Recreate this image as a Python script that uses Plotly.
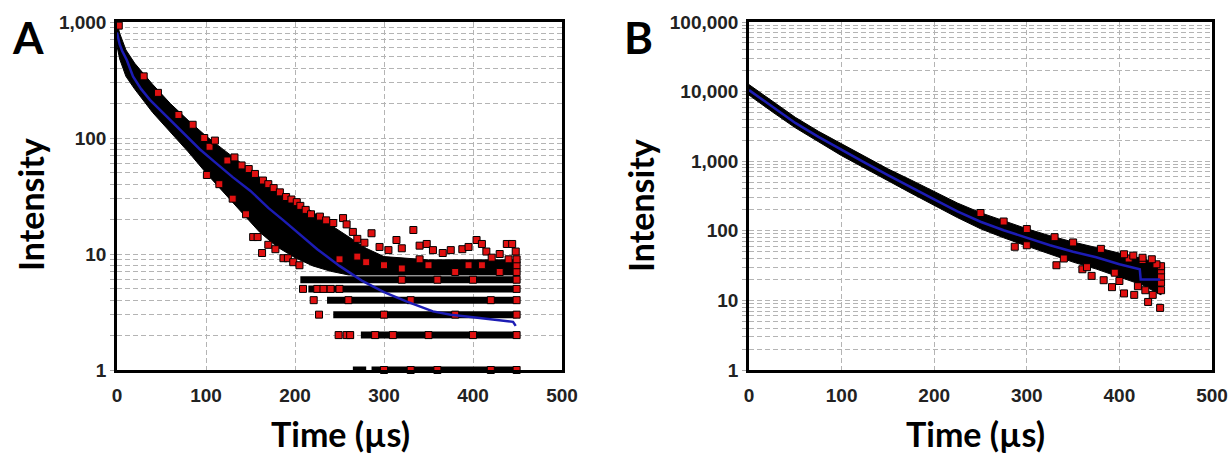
import plotly.graph_objects as go

# ---------------- Panel A data ----------------
a_fit_t = [0, 3, 6, 11, 18, 27, 37, 56, 74, 93, 110, 130, 150, 170, 187, 200, 225, 250, 275, 300, 325, 355, 375, 400, 425, 445, 448]
a_fit_i = [810, 640, 560, 470, 340, 265, 213, 152, 110, 80, 62, 46, 35, 25, 19.5, 16, 11, 7.9, 5.9, 4.7, 3.9, 3.2, 3.0, 2.85, 2.7, 2.6, 2.4]

# dense scatter band (upper / lower envelope of the crowded points)
a_band_t = [0, 3, 10, 20, 40, 60, 80, 100, 120, 140, 160, 180, 200, 220, 240, 260, 280, 300, 350, 400, 449]
a_band_hi = [990, 800, 575, 440, 290, 198, 142, 104, 79, 60, 46, 36, 29, 23, 17.8, 14.1, 11.2, 9.5, 8.9, 8.9, 8.9]
a_band_lo = [620, 480, 340, 263, 166, 112, 76, 50, 34, 23, 15.5, 11.5, 9.3, 7.9, 7.1, 6.6, 6.6, 6.6, 6.6, 6.6, 6.6]

# saturated rows of points at integer photon counts: (count, [(t_start, t_end), ...])
a_rows = [
    (1, [(265, 280), (286, 449)]),
    (2, [(256, 266), (274, 449)]),
    (3, [(243, 449)]),
    (4, [(236, 449)]),
    (5, [(215, 449)]),
    (6, [(206, 449)]),
]

# individually visible points (edges / outliers)
a_pts_t = [2, 30, 46, 69, 85, 98, 104, 110, 124, 132, 140, 148, 155,
           164, 170, 176, 183, 190, 196, 202, 206, 212, 218, 228, 235, 243, 254, 258, 265, 270, 278, 286, 295, 305,
           314, 320, 333, 340, 348, 355, 366, 375, 388, 395, 404, 410, 415, 421, 430, 438, 444, 448,
           101, 115, 130, 145, 153, 158, 163, 170, 178, 187, 192, 198, 205, 209, 221, 227, 249, 258, 262,
           449, 449, 449, 449, 449, 449, 449, 449, 449,
           300, 330, 360, 420, 290, 310, 350, 400, 300, 380, 260, 330, 420, 225, 232, 240, 250, 320, 360, 400,
           300, 320, 350, 380, 410, 430, 280, 250, 270, 340, 395, 440]
a_pts_i = [930, 340, 245, 158, 130, 100, 84, 95, 64, 68, 58, 54, 49,
           43, 40, 37, 34, 31, 29.5, 28, 26, 24, 22, 21, 19.5, 18.5, 20.4, 18, 15.5, 13.5, 12.5, 15.1, 11.5, 10.8,
           13.2, 11.2, 16.1, 11.8, 12.2, 10.8, 10.2, 10.8, 11, 11.5, 13.2, 12.2, 10.5, 9.3, 10, 12.2, 12.2, 10.5,
           48, 40, 30, 22, 14, 14, 10.2, 12, 11, 9.2, 9.2, 8.5, 8, 5, 4, 3, 2, 2, 2,
           1, 2, 3, 4, 5, 6, 7, 8, 9,
           1, 1, 1, 1, 2, 2, 2, 2, 3, 3, 4, 4, 4, 5, 5, 5, 5, 6, 6, 6,
           8, 7.5, 8, 7, 8, 7, 8.5, 9, 9.5, 9, 8, 9]

# ---------------- Panel B data ----------------
b_fit_t = [0, 25, 50, 75, 100, 125, 150, 175, 200, 225, 250, 275, 300, 325, 350, 375, 400, 422, 423, 444]
b_fit_i = [10500, 6030, 3550, 2240, 1445, 955, 630, 427, 282, 190, 135, 102, 79, 62, 50, 41.7, 33, 28, 20, 20]

b_band_t = [0, 25, 50, 75, 100, 125, 150, 175, 200, 225, 250, 275, 300, 325, 350, 375, 400, 425, 445]
b_band_hi = [12600, 7240, 4270, 2690, 1780, 1175, 776, 537, 363, 251, 182, 138, 107, 85, 69, 57.5, 47.9, 39.8, 33.1]
b_band_lo = [8900, 5130, 3020, 1905, 1200, 794, 525, 347, 229, 155, 107, 79.4, 60.3, 45.7, 35.5, 28.2, 21.9, 16.6, 12.0]

b_pts_t = [287, 332, 383, 392, 405, 416, 431, 444, 436, 445, 445, 445, 445, 445, 440, 425, 410, 370, 360, 395, 420, 400, 428,
           250, 275, 300, 330, 350, 380, 405, 415, 425, 435, 300, 340, 365]
b_pts_i = [59, 32, 19.5, 15.5, 12.6, 12, 9.5, 7.8, 12, 14, 18, 22, 27, 31, 33, 38, 40, 22.5, 28, 25, 16, 19, 14,
           180, 136, 106, 81, 68, 55, 46, 44, 41, 39, 62, 40, 30]

x_ticks = [0, 100, 200, 300, 400, 500]

RED = "#e01010"
BLUE = "#1c1cb4"

fig = go.Figure()


def add_panel(xa, ya, band_t, hi, lo, pts_t, pts_i, fit_t, fit_i, rows=None):
    fig.add_trace(go.Scatter(x=band_t + band_t[::-1], y=hi + lo[::-1], fill="toself", fillcolor="black",
                             mode="lines", line=dict(width=1, color="black"), xaxis=xa, yaxis=ya,
                             hoverinfo="skip", showlegend=False))
    if rows:
        rx, ry = [], []
        for cnt, segs in rows:
            for s, e in segs:
                rx += [s, e, None]
                ry += [cnt, cnt, None]
        fig.add_trace(go.Scatter(x=rx, y=ry, mode="lines", line=dict(width=7, color="black"),
                                 xaxis=xa, yaxis=ya, showlegend=False, hoverinfo="skip"))
    fig.add_trace(go.Scatter(x=pts_t, y=pts_i, mode="markers",
                             marker=dict(symbol="square", size=7, color=RED, line=dict(color="black", width=1)),
                             xaxis=xa, yaxis=ya, showlegend=False, cliponaxis=False))
    fig.add_trace(go.Scatter(x=fit_t, y=fit_i, mode="lines", line=dict(color=BLUE, width=2.5),
                             xaxis=xa, yaxis=ya, showlegend=False))


add_panel("x", "y", a_band_t, a_band_hi, a_band_lo, a_pts_t, a_pts_i, a_fit_t, a_fit_i, a_rows)
add_panel("x2", "y2", b_band_t, b_band_hi, b_band_lo, b_pts_t, b_pts_i, b_fit_t, b_fit_i)


def log_ticks(decades):
    vals, text = [], []
    for d in range(decades + 1):
        for m in range(1, 10):
            v = m * 10 ** d
            if d == decades and m > 1:
                break
            vals.append(v)
            text.append(f"{v:,}" if m == 1 else "")
    return vals, text


W, H = 1231, 457
TICKFONT = dict(family="Liberation Sans Narrow, Liberation Sans, Arial", size=19, color="#222", weight="bold")
GRID = dict(showgrid=True, gridcolor="#b4b4b4", gridwidth=1, griddash="5px,3px")
BOX = dict(showline=True, mirror=True, linecolor="black", linewidth=2.5, zeroline=False)

ya_vals, ya_text = log_ticks(3)
yb_vals, yb_text = log_ticks(5)

xcommon = dict(range=[0, 500], tickvals=x_ticks, ticks="", tickfont=TICKFONT, automargin=False,
               ticklabelstandoff=6, **GRID, **BOX)

fig.update_layout(
    width=W, height=H, autosize=False,
    margin=dict(l=0, r=0, t=22, b=87),
    paper_bgcolor="white", plot_bgcolor="white",
    xaxis=dict(domain=[117 / W, 562 / W], anchor="y", **xcommon),
    xaxis2=dict(domain=[749 / W, 1212 / W], anchor="y2", **xcommon),
    yaxis=dict(type="log", range=[0, 3], anchor="x", tickvals=ya_vals, ticktext=ya_text, ticks="outside",
               ticklen=4, tickcolor="#aaa", tickfont=TICKFONT, automargin=False, **GRID, **BOX),
    yaxis2=dict(type="log", range=[0, 5], anchor="x2", tickvals=yb_vals, ticktext=yb_text, ticks="outside",
                ticklen=4, tickcolor="#aaa", tickfont=TICKFONT, automargin=False, **GRID, **BOX),
    showlegend=False,
)

TITLEFONT = dict(family="Lato, Open Sans, sans-serif", size=34, color="black", weight="bold")
PLOT_H = 370 - 22


def py(ypix):
    return (370 - ypix) / PLOT_H


ann = [
    dict(text="A", x=28 / W, y=py(37), font=dict(family="Lato, Open Sans", size=44, color="black", weight="bold")),
    dict(text="B", x=638 / W, y=py(37), font=dict(family="Lato, Open Sans", size=44, color="black", weight="bold")),
    dict(text="Intensity", x=30 / W, y=py(205), textangle=-90, font=TITLEFONT),
    dict(text="Intensity", x=640 / W, y=py(205), textangle=-90, font=TITLEFONT),
    dict(text="Time (µs)", x=340 / W, y=py(433), font=TITLEFONT),
    dict(text="Time (µs)", x=976 / W, y=py(433), font=TITLEFONT),
]
for a in ann:
    fig.add_annotation(xref="paper", yref="paper", xanchor="center", yanchor="middle", showarrow=False, **a)

fig.write_html("out.html")
